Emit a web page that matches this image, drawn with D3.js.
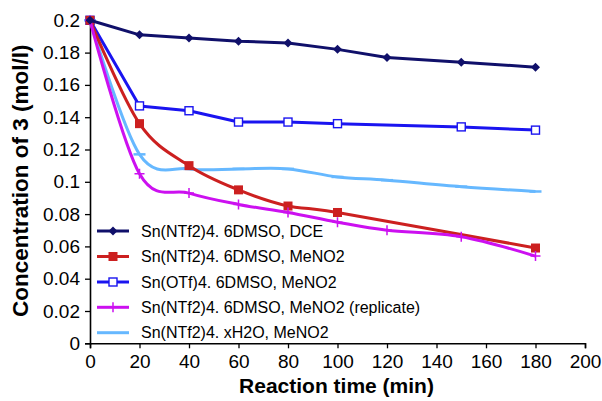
<!DOCTYPE html>
<html>
<head>
<meta charset="utf-8">
<script src="https://cdn.jsdelivr.net/npm/d3@7"></script>
<style>
  body { margin: 0; background: #fff; }
  svg { font-family: "Liberation Sans", Arial, sans-serif; }
</style>
</head>
<body>
<svg id="chart" width="602" height="401"></svg>
<script>
var times_a = [0, 20, 40, 60, 80, 100, 120, 150, 180];
var times_b = [0, 20, 40, 60, 80, 100, 180];
var times_c = [0, 20, 40, 60, 80, 100, 150, 180];

var dce = [0.2, 0.191, 0.189, 0.187, 0.186, 0.182, 0.177, 0.174, 0.171];
var meno2 = [0.2, 0.136, 0.110, 0.095, 0.085, 0.081, 0.059];
var otf = [0.2, 0.147, 0.144, 0.137, 0.137, 0.136, 0.134, 0.132];
var replicate = [0.2, 0.105, 0.093, 0.086, 0.081, 0.075, 0.070, 0.066, 0.054];
var hydrate = [0.2, 0.117, 0.108, 0.108, 0.108, 0.103, 0.101, 0.097, 0.094];

var names = [
  "Sn(NTf2)4. 6DMSO, DCE",
  "Sn(NTf2)4. 6DMSO, MeNO2",
  "Sn(OTf)4. 6DMSO, MeNO2",
  "Sn(NTf2)4. 6DMSO, MeNO2 (replicate)",
  "Sn(NTf2)4. xH2O, MeNO2"
];
var xTicks = [0, 20, 40, 60, 80, 100, 120, 140, 160, 180, 200];
var yTicks = [0, 0.02, 0.04, 0.06, 0.08, 0.1, 0.12, 0.14, 0.16, 0.18, 0.2];

var series = [
  { name: names[0], x: times_a, y: dce, color: "#10106a", marker: "diamond", smooth: false },
  { name: names[1], x: times_b, y: meno2, color: "#cc2020", marker: "square", smooth: true },
  { name: names[2], x: times_c, y: otf, color: "#1a14f0", marker: "open", smooth: false },
  { name: names[3], x: times_a, y: replicate, color: "#cc10f0", marker: "plus", smooth: true },
  { name: names[4], x: times_a, y: hydrate, color: "#66b8ff", marker: "dash", smooth: true }
];

var svg = d3.select("#chart");
var pLeft = 90, pRight = 585, pTop = 20.3, pBottom = 343.3;

var x = d3.scaleLinear().domain([0, 200]).range([pLeft, pRight]);
var y = d3.scaleLinear().domain([0, 0.2]).range([pBottom, pTop]);

// axes
var xAxis = svg.append("g")
    .attr("transform", "translate(0," + pBottom + ")")
    .call(d3.axisBottom(x).tickValues(xTicks).tickSize(5).tickPadding(4).tickFormat(d3.format("d")));
var yAxis = svg.append("g")
    .attr("transform", "translate(" + pLeft + ",0)")
    .call(d3.axisLeft(y).tickValues(yTicks).tickSize(5).tickPadding(5).tickFormat((d) => d === 0 ? "0" : String(+d.toFixed(2))));

[xAxis, yAxis].forEach((a) => {
  a.select(".domain").attr("stroke", "#000").attr("stroke-width", 1.6);
  a.selectAll(".tick line").attr("stroke", "#000").attr("stroke-width", 1.3);
  a.selectAll(".tick text").attr("fill", "#000").style("font-size", "19px")
      .style("font-family", "'Liberation Sans', Arial, sans-serif");
});
xAxis.selectAll(".tick text").attr("dy", "0.85em");

// lines
var smoothLine = d3.line()
    .x((d) => x(d[0]))
    .y((d) => y(d[1]))
    .curve(d3.curveCardinal.tension(0));
var straightLine = d3.line()
    .x((d) => x(d[0]))
    .y((d) => y(d[1]));

function drawMarker(g, type, color) {
  if (type == "diamond") {
    g.append("path").attr("d", "M0,-4.5L4.5,0L0,4.5L-4.5,0Z").attr("fill", color);
  } else if (type == "square") {
    g.append("rect").attr("x", -4.5).attr("y", -4.5).attr("width", 9).attr("height", 9).attr("fill", color);
  } else if (type == "open") {
    g.append("rect").attr("x", -4).attr("y", -4).attr("width", 8).attr("height", 8)
        .attr("fill", "#fff").attr("stroke", color).attr("stroke-width", 1.4);
  } else if (type == "plus") {
    g.append("path").attr("d", "M-5,0H5M0,-5V5").attr("stroke", color).attr("stroke-width", 1.5);
  } else if (type == "dash") {
    g.append("path").attr("d", "M-6,0H6").attr("stroke", color).attr("stroke-width", 2.5);
  }
}

var order = [4, 2, 1, 3, 0];
order.forEach((k) => {
  var s = series[k];
  var pts = s.x.map((t, i) => [t, s.y[i]]);
  svg.append("path")
      .datum(pts)
      .attr("fill", "none")
      .attr("stroke", s.color)
      .attr("stroke-width", 3)
      .attr("stroke-linejoin", "round")
      .attr("d", s.smooth ? smoothLine : straightLine);
  var m = svg.append("g").selectAll("g").data(pts).enter().append("g")
      .attr("transform", (d) => "translate(" + x(d[0]) + "," + y(d[1]) + ")");
  m.each(function() { drawMarker(d3.select(this), s.marker, s.color); });
});

// legend
var legend = svg.append("g");
var rowY = [231, 256.5, 282, 307.3, 332.7];
series.forEach((s, i) => {
  var g = legend.append("g").attr("transform", "translate(0," + rowY[i] + ")");
  g.append("line").attr("x1", 97).attr("x2", 129).attr("y1", 0).attr("y2", 0)
      .attr("stroke", s.color).attr("stroke-width", 3);
  if (s.marker != "dash") {
    var mg = g.append("g").attr("transform", "translate(113,0)");
    drawMarker(mg, s.marker, s.color);
  }
  g.append("text").attr("x", 141).attr("y", 0).attr("dy", "0.35em")
      .style("font-size", "16px").attr("fill", "#000").text(s.name);
});

// titles
svg.append("text")
    .attr("x", (pLeft + pRight) / 2 - 1).attr("y", 393)
    .attr("text-anchor", "middle")
    .style("font-size", "21px").style("font-weight", "bold")
    .text("Reaction time (min)");
svg.append("text")
    .attr("transform", "translate(28," + ((pTop + pBottom) / 2 - 1) + ") rotate(-90)")
    .attr("text-anchor", "middle")
    .style("font-size", "22.5px").style("font-weight", "bold")
    .text("Concentration of 3 (mol/l)");
</script>
</body>
</html>
